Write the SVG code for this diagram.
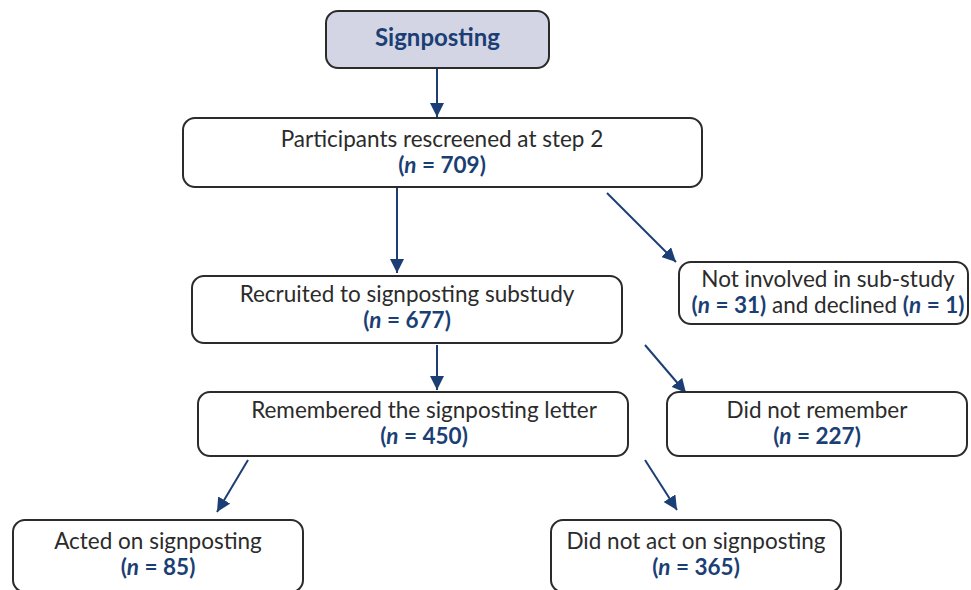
<svg xmlns="http://www.w3.org/2000/svg" width="971" height="590" viewBox="0 0 971 590">
<defs>
<marker id="ah" viewBox="0 0 10 10" refX="10" refY="5" markerWidth="14" markerHeight="14" markerUnits="userSpaceOnUse" orient="auto">
<path d="M0,0 L10,5 L0,10 z" fill="#1b3f74"/>
</marker>
<style>
.box{fill:#fff;stroke:#2b2b2b;stroke-width:2}
.t{font-family:Lato,"Open Sans",sans-serif;font-size:22.5px;fill:#2b2b2b;text-anchor:middle}
.n{font-weight:bold;fill:#1b3f74}
.c{stroke:#1b3f74;stroke-width:2;fill:none;marker-end:url(#ah)}
</style>
</defs>
<g id="connectors">
<line class="c" x1="437" y1="69" x2="437" y2="117"/>
<line class="c" x1="397" y1="188" x2="397" y2="273"/>
<line class="c" x1="607" y1="193" x2="676" y2="262"/>
<line class="c" x1="437" y1="345" x2="437" y2="390"/>
<line class="c" x1="645" y1="345" x2="686" y2="393"/>
<line class="c" x1="248" y1="460" x2="217" y2="512"/>
<line class="c" x1="645" y1="460" x2="677" y2="510"/>
</g>
<g id="signposting">
<rect x="326" y="11" width="223" height="57" rx="12" fill="#d3d5e4" stroke="#2b2b2b" stroke-width="2"/>
<text class="t n" x="437.5" y="46" style="font-size:24px">Signposting</text>
</g>
<g id="rescreened">
<rect class="box" x="183" y="118" width="519" height="69" rx="12"/>
<text class="t" x="442" y="147">Participants rescreened at step 2</text>
<text class="t n" x="442" y="173">(<tspan font-style="italic">n</tspan> = 709)</text>
</g>
<g id="notinvolved">
<rect class="box" x="679" y="262" width="289" height="62" rx="12"/>
<text class="t" x="828" y="287">Not involved in sub-study</text>
<text class="t" x="828" y="313"><tspan class="n">(<tspan font-style="italic">n</tspan> = 31)</tspan> and declined <tspan class="n">(<tspan font-style="italic">n</tspan> = 1)</tspan></text>
</g>
<g id="recruited">
<rect class="box" x="192" y="276" width="430" height="67" rx="12"/>
<text class="t" x="407" y="302">Recruited to signposting substudy</text>
<text class="t n" x="407" y="328">(<tspan font-style="italic">n</tspan> = 677)</text>
</g>
<g id="remembered">
<rect class="box" x="198" y="392" width="430" height="64" rx="12"/>
<text class="t" x="424" y="418">Remembered the signposting letter</text>
<text class="t n" x="424" y="444">(<tspan font-style="italic">n</tspan> = 450)</text>
</g>
<g id="notremember">
<rect class="box" x="667" y="392" width="300" height="64" rx="12"/>
<text class="t" x="817" y="418">Did not remember</text>
<text class="t n" x="817" y="444">(<tspan font-style="italic">n</tspan> = 227)</text>
</g>
<g id="acted">
<rect class="box" x="13" y="520" width="290" height="72" rx="12"/>
<text class="t" x="158" y="549">Acted on signposting</text>
<text class="t n" x="158" y="575">(<tspan font-style="italic">n</tspan> = 85)</text>
</g>
<g id="notacted">
<rect class="box" x="551" y="520" width="290" height="72" rx="12"/>
<text class="t" x="696" y="549">Did not act on signposting</text>
<text class="t n" x="696" y="575">(<tspan font-style="italic">n</tspan> = 365)</text>
</g>
</svg>
